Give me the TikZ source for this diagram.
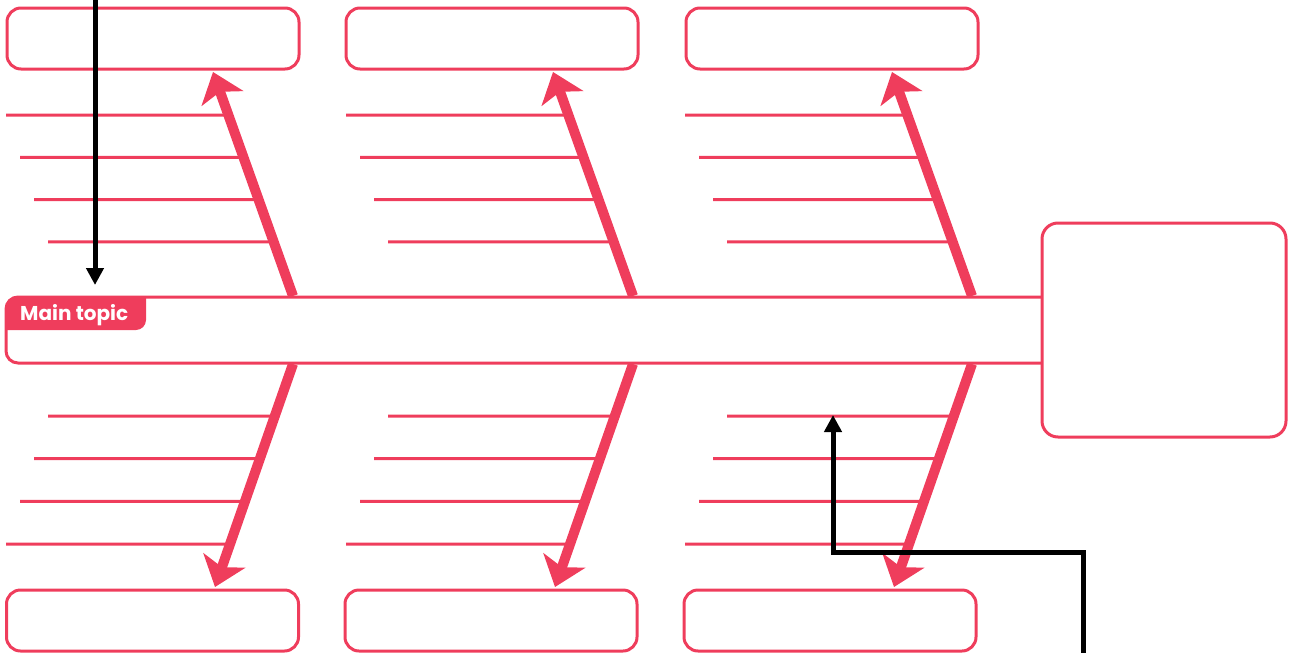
\documentclass[tikz,border=0pt]{standalone}
\usepackage{fontspec}
\newfontfamily\tabfont{Poppins}
\usetikzlibrary{arrows.meta,calc}
\definecolor{fishred}{RGB}{239,61,92}
\begin{document}
\begin{tikzpicture}[x=1pt,y=-1pt,
    catbox/.style = {draw=fishred, line width=3pt, rounded corners=14pt, minimum width=292pt, minimum height=61pt, inner sep=0pt},
    headbox/.style = {draw=fishred, fill=white, line width=3pt, rounded corners=16pt, minimum width=244pt, minimum height=214pt, inner sep=0pt},
    spinebox/.style = {draw=fishred, line width=3pt, rounded corners=12pt, minimum width=1064pt, minimum height=66pt, inner sep=0pt},
    bone/.style = {draw=fishred, line width=10pt, -{Stealth[length=28pt,width=44pt,inset=7pt]}},
    rib/.style = {draw=fishred, line width=3pt},
    pointer/.style = {draw=black, line width=5pt, -{Triangle[length=17pt,width=17pt]}}]
    \useasboundingbox (0,0) rectangle (1293,653);
    % category boxes
    \node[catbox] (top1) at (153,38.5) {};
    \node[catbox] (top2) at (492,38.5) {};
    \node[catbox] (top3) at (832,38.5) {};
    \node[catbox] (bot1) at (152.5,620.5) {};
    \node[catbox] (bot2) at (491,620.5) {};
    \node[catbox] (bot3) at (830,620.5) {};
    % bones and ribs
    \foreach \g/\dx in {1/0, 2/340, 3/679} {
        \coordinate (ut\g) at (293+\dx,296);
        \coordinate (uh\g) at (213+\dx,72);
        \coordinate (lt\g) at (293+\dx,364);
        \coordinate (lh\g) at (215+\dx,587);
        \foreach \i in {0,...,3} {
            \pgfmathsetmacro\yy{115+42.3*\i}
            \pgfmathsetmacro\ff{(296-\yy)/224}
            \coordinate (ur\g\i) at (6+14*\i+\dx,\yy);
            \draw[rib] (ur\g\i) -- ($(ut\g)!\ff!(uh\g)$);
            \pgfmathsetmacro\yy{416+42.7*\i}
            \pgfmathsetmacro\ff{(\yy-364)/223}
            \coordinate (lr\g\i) at (48-14*\i+\dx,\yy);
            \draw[rib] (lr\g\i) -- ($(lt\g)!\ff!(lh\g)$);
        }
        \draw[bone] (ut\g) -- (uh\g);
        \draw[bone] (lt\g) -- (lh\g);
    }
    % spine with its tab
    \fill[fishred] (6,330) -- (6,308) arc[start angle=180, end angle=270, radius=12] -- (146,296) -- (146,320) arc[start angle=0, end angle=90, radius=10] -- cycle;
    \node[font=\tabfont\bfseries\fontsize{20}{20}\selectfont, text=white, anchor=base west, inner sep=0pt] (maintopic) at (20,320) {Main topic};
    \node[spinebox] (spine) at (538,330) {};
    \node[headbox] (head) at (1164,330) {};
    % pointers
    \coordinate (k1) at (95,-5);
    \coordinate (k2) at (95,285);
    \draw[pointer] (k1) -- (k2);
    \coordinate (k3) at (1083,660);
    \coordinate (k5) at (1083,552);
    \coordinate (k4) at (833,415);
    \draw[pointer] (k3) -- (k5) -| (k4);
\end{tikzpicture}
\end{document}
